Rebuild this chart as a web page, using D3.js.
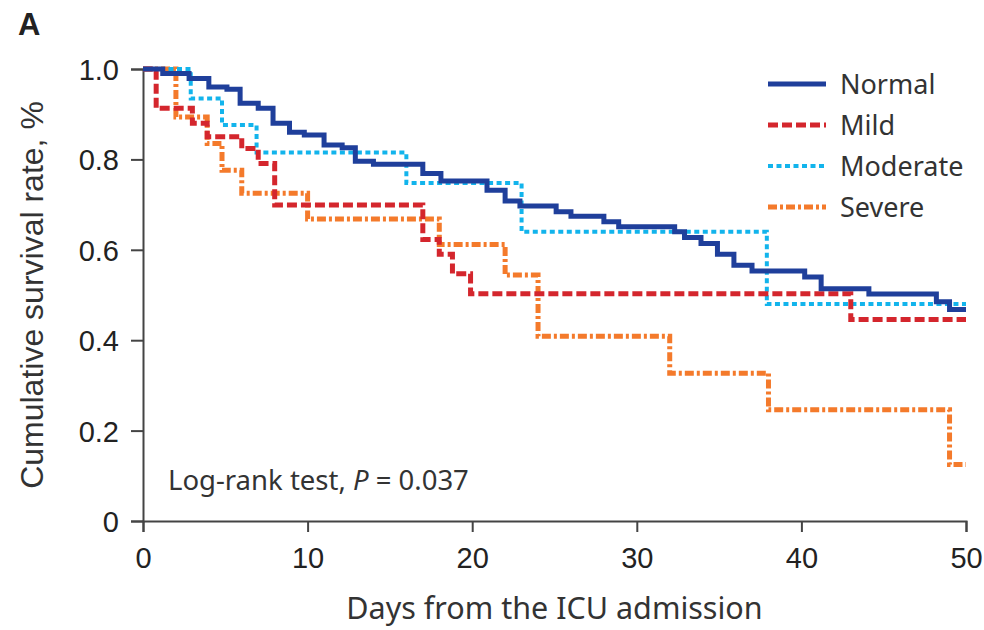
<!DOCTYPE html>
<html>
<head>
<meta charset="utf-8">
<script src="https://cdn.jsdelivr.net/npm/d3@7"></script>
<style>
  body { margin: 0; background: #fff; }
  svg { display: block; }
</style>
</head>
<body>
<div id="chart"></div>
<script>
// step points of each curve: day of the step and survival after it
const normalDays = [0, 1.2, 2.8, 4.0, 5.1, 5.9, 7.0, 7.9, 8.9, 9.8, 11.0, 12.1, 12.9, 14.0, 17.0, 18.1, 20.9, 22.0, 22.9, 25.1, 26.0, 28.0, 28.9, 32.3, 32.9, 33.9, 34.9, 35.9, 37.0, 40.2, 41.2, 44.1, 48.2, 49.0, 50];
const normalSurv = [1.0, 0.99, 0.979, 0.96, 0.955, 0.924, 0.913, 0.88, 0.86, 0.854, 0.832, 0.826, 0.796, 0.789, 0.769, 0.752, 0.732, 0.708, 0.697, 0.684, 0.674, 0.662, 0.651, 0.64, 0.627, 0.614, 0.59, 0.566, 0.553, 0.54, 0.514, 0.502, 0.485, 0.468, 0.468];

const mildDays = [0, 0.8, 3.0, 3.9, 6.0, 7.0, 8.0, 17.0, 18.0, 18.8, 19.9, 43.0, 50];
const mildSurv = [1.0, 0.913, 0.88, 0.85, 0.824, 0.791, 0.699, 0.623, 0.59, 0.547, 0.503, 0.446, 0.446];

const moderateDays = [0, 2.9, 4.8, 6.9, 16.0, 23.0, 37.9, 50];
const moderateSurv = [1.0, 0.935, 0.876, 0.815, 0.748, 0.64, 0.48, 0.48];

const severeDays = [0, 2.0, 3.9, 4.8, 6.0, 10.0, 18.0, 22.0, 24.0, 32.0, 38.0, 49.0, 50];
const severeSurv = [1.0, 0.894, 0.835, 0.776, 0.725, 0.668, 0.612, 0.544, 0.409, 0.327, 0.246, 0.125, 0.125];

const groupNames = ["Normal", "Mild", "Moderate", "Severe"];
const xTicks = [0, 10, 20, 30, 40, 50];
const yTicks = [0, 0.2, 0.4, 0.6, 0.8, 1.0];

const width = 984, height = 630;
const margin = { top: 69, right: 18, bottom: 109, left: 143 };

const svg = d3.select("#chart").append("svg")
    .attr("width", width)
    .attr("height", height);

const x = d3.scaleLinear().domain([0, 50]).range([margin.left, width - margin.right]);
const y = d3.scaleLinear().domain([0, 1]).range([height - margin.bottom, margin.top]);

const axisFont = "'Liberation Sans', Arial, sans-serif";
const labelFont = "'Noto Sans', 'Open Sans', sans-serif";

// axes
const xAxis = svg.append("g")
    .attr("transform", `translate(0,${y(0)})`)
    .call(d3.axisBottom(x).tickValues(xTicks).tickSize(11).tickPadding(15).tickFormat(d3.format("d")));
const yAxis = svg.append("g")
    .attr("transform", `translate(${x(0)},0)`)
    .call(d3.axisLeft(y).tickValues(yTicks).tickSize(12).tickPadding(12)
        .tickFormat(d => d === 0 ? "0" : d3.format(".1f")(d)));

[xAxis, yAxis].forEach(a => {
    a.select(".domain").attr("stroke", "#444").attr("stroke-width", 2);
    a.selectAll(".tick line").attr("stroke", "#444").attr("stroke-width", 2);
    a.selectAll("text").attr("fill", "#222").style("font-family", axisFont).style("font-size", "29px");
});
yAxis.selectAll("text").attr("dy", "0.36em");

// curves
const series = [
    { name: "Normal", days: normalDays, surv: normalSurv, color: "#1f3f9b", dash: null, w: 5 },
    { name: "Mild", days: mildDays, surv: mildSurv, color: "#d4262d", dash: "10,4", w: 5 },
    { name: "Moderate", days: moderateDays, surv: moderateSurv, color: "#12b4ec", dash: "5,3.5", w: 4 },
    { name: "Severe", days: severeDays, surv: severeSurv, color: "#f47a2b", dash: "9,3,3,3", w: 5 }
];

const line = d3.line()
    .x(d => x(d[0]))
    .y(d => y(d[1]))
    .curve(d3.curveStepAfter);

// draw back to front so Normal sits on top
series.slice().reverse().forEach(s => {
    svg.append("path")
        .datum(d3.zip(s.days, s.surv))
        .attr("fill", "none")
        .attr("stroke", s.color)
        .attr("stroke-width", s.w)
        .attr("stroke-dasharray", s.dash)
        .attr("d", line);
});

// legend
const legend = svg.append("g").attr("transform", "translate(768,84)");
legend.selectAll("line")
    .data(series)
    .enter()
    .append("line")
    .attr("x1", 0).attr("x2", 58)
    .attr("y1", (d, i) => i * 41).attr("y2", (d, i) => i * 41)
    .attr("stroke", d => d.color)
    .attr("stroke-width", d => d.w)
    .attr("stroke-dasharray", d => d.dash);
legend.selectAll("text")
    .data(groupNames)
    .enter()
    .append("text")
    .attr("x", 72)
    .attr("y", (d, i) => i * 41 + 10)
    .style("font-family", labelFont)
    .style("font-size", "27px")
    .attr("fill", "#333")
    .text(d => d);

// annotation
const note = svg.append("text")
    .attr("x", 168)
    .attr("y", 490)
    .style("font-family", labelFont)
    .style("font-size", "27.5px")
    .attr("fill", "#333");
note.append("tspan").text("Log-rank test, ");
note.append("tspan").style("font-style", "italic").text("P");
note.append("tspan").text(" = 0.037");

// axis titles
svg.append("text")
    .attr("x", (x(0) + x(50)) / 2)
    .attr("y", 619)
    .attr("text-anchor", "middle")
    .style("font-family", labelFont)
    .style("font-size", "30.5px")
    .attr("fill", "#333")
    .text("Days from the ICU admission");

svg.append("text")
    .attr("transform", `translate(43,${(y(0) + y(1)) / 2}) rotate(-90)`)
    .attr("text-anchor", "middle")
    .style("font-family", axisFont)
    .style("font-size", "32px")
    .attr("fill", "#333")
    .text("Cumulative survival rate, %");

// panel letter
svg.append("text")
    .attr("x", 18)
    .attr("y", 35)
    .style("font-family", axisFont)
    .style("font-size", "31px")
    .style("font-weight", "bold")
    .attr("fill", "#222")
    .text("A");
</script>
</body>
</html>
